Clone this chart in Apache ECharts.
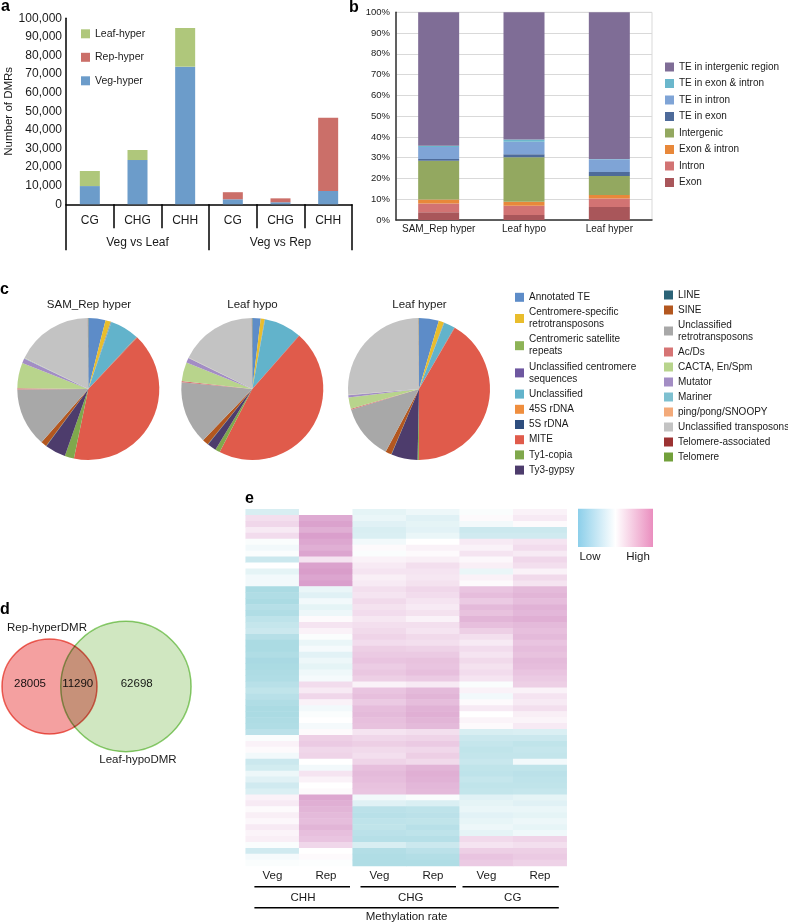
<!DOCTYPE html>
<html><head><meta charset="utf-8">
<script src="https://cdn.jsdelivr.net/npm/echarts@6/dist/echarts.min.js"></script>
<style>html,body{margin:0;padding:0;background:#fff}#c{width:788px;height:924px}</style>
</head><body><div id="c"></div>
<script>
// ---------- Panel a data ----------
const aCategories = ['CG','CHG','CHH','CG','CHG','CHH'];
const aGroups = ['Veg vs Leaf','Veg vs Rep'];
const aVegHyper  = [9800, 23800, 73988, 2700, 1100, 7200];
const aRepHyper  = [null, null, null, 3800, 2100, 39295];
const aLeafHyper = [8100, 5400, 20800, null, null, null];

// ---------- Panel b data (%) ----------
const bCategories = ['SAM_Rep hyper','Leaf hypo','Leaf hyper'];
const bExon          = [3.7, 2.4, 6.3];
const bIntron        = [4.3, 4.5, 4.05];
const bExonIntron    = [1.9, 1.9, 1.65];
const bIntergenic    = [18.6, 21.4, 9.2];
const bTEExon        = [0.9, 1.4, 1.9];
const bTEIntron      = [5.8, 6.1, 6.1];
const bTEExonIntron  = [0.5, 1.1, 0.2];
const bTEIntergenic  = [64.3, 61.2, 70.6];

// ---------- Panel c data (%) ----------
const teTypes = ['Annotated TE','Centromere-specific retrotransposons','Centromeric satellite repeats','Unclassified centromere sequences','Unclassified','45S rDNA','5S rDNA','MITE','Ty1-copia','Ty3-gypsy','LINE','SINE','Unclassified retrotransposons','Ac/Ds','CACTA, En/Spm','Mutator','Mariner','ping/pong/SNOOPY','Unclassified transposons','Telomere-associated','Telomere'];
const cPieTitles = ['SAM_Rep hyper','Leaf hypo','Leaf hyper'];
const cSamRepHyper = [3.9,1.2,0.1,0.1,6.6,0.1,0.1,41.1,2.1,4.7,0.1,1.3,13.4,0.3,5.8,1.1,0.1,0.1,17.6,0.05,0.05];
const cLeafHypo    = [1.9,0.9,0.05,0.05,8.5,0.05,0.05,46.1,1.1,2.0,0.1,1.4,14.3,0.3,4.3,1.1,0.05,0.05,17.6,0.05,0.05];
const cLeafHyper   = [4.5,1.2,0.05,0.05,2.5,0.05,0.05,41.6,0.3,6.0,0.05,1.4,12.5,0.2,2.6,0.5,0.05,0.05,26.2,0.05,0.05];
const cMiteLabels  = ['41.1%','46.1%','41.6%'];

// ---------- Panel d data ----------
const dSetNames = ['Rep-hyperDMR','Leaf-hypoDMR'];
const dRepOnly = 28005, dShared = 11290, dLeafOnly = 62698;

// ---------- Panel e data (0 = low, 10 = high) ----------
const eColumns = ['CHH Veg','CHH Rep','CHG Veg','CHG Rep','CG Veg','CG Rep'];
const eGroups = ['CHH','CHG','CG'];
const eChhVeg = [3.5,6.2,6.5,5.8,6.3,4.8,4.5,4.8,3.0,5.0,4.0,4.5,4.5,1.8,2.0,1.8,2.2,2.0,2.5,2.8,3.0,2.2,1.8,1.8,2.0,1.7,1.8,1.9,2.0,2.3,2.6,2.3,2.0,1.8,1.8,1.9,2.0,2.4,4.8,5.5,5.2,4.5,3.0,3.3,4.3,3.8,3.2,3.6,5.5,5.8,5.2,5.6,5.3,5.8,5.4,5.6,4.8,3.2,4.6,4.8];
const eChhRep = [5.0,8.2,8.5,8.0,8.6,8.3,8.0,8.4,6.0,8.5,8.7,8.4,8.6,4.2,3.8,4.5,4.0,4.3,5.2,6.0,5.5,4.8,4.2,4.6,3.9,4.3,4.0,4.4,4.6,6.3,5.8,6.5,5.5,4.5,4.8,5.0,4.6,5.2,6.8,7.0,6.5,6.6,5.0,4.5,6.0,5.5,5.0,5.2,8.3,8.0,7.8,7.6,7.5,7.8,7.4,7.2,6.5,5.0,5.2,4.9];
const eChgVeg = [4.0,4.2,3.8,3.5,3.6,4.5,5.2,4.8,5.5,5.8,6.0,5.6,5.8,6.2,6.0,6.4,6.1,6.3,5.9,6.2,6.4,6.6,6.3,6.8,7.0,7.2,6.9,7.1,6.8,5.5,7.2,7.4,7.0,7.5,7.6,7.4,7.3,6.0,6.5,6.8,6.4,6.2,6.6,7.4,7.6,7.5,7.3,7.2,4.5,3.8,2.4,2.3,2.5,2.6,2.4,2.2,3.5,2.1,2.0,2.0];
const eChgRep = [4.3,3.8,4.0,3.9,4.2,5.0,5.5,5.2,5.6,6.2,6.0,5.9,6.1,6.5,6.3,6.0,5.8,6.1,5.5,6.2,6.0,6.4,6.2,6.7,7.0,7.3,7.2,7.4,7.0,5.8,7.6,7.8,7.5,7.9,8.0,7.8,7.6,6.2,6.6,7.0,6.5,6.8,6.4,7.8,8.0,7.9,7.7,7.6,4.8,3.6,2.5,2.4,2.6,2.3,2.5,2.2,3.0,2.4,2.1,2.0];
const eCgVeg  = [4.8,5.2,4.5,3.0,3.2,5.8,5.5,6.0,5.3,5.6,4.2,5.5,5.2,7.2,7.5,7.0,7.6,7.3,7.8,7.4,6.8,6.2,5.8,6.3,6.0,6.4,6.1,6.3,6.0,4.8,5.5,4.5,5.2,5.8,5.0,5.4,5.2,3.5,3.0,2.8,2.6,2.7,2.9,2.6,2.5,2.8,2.6,2.7,3.8,4.0,4.2,3.9,4.1,4.3,4.0,6.4,6.0,6.8,7.2,7.0];
const eCgRep  = [5.5,5.8,5.2,3.0,3.2,6.0,6.3,5.8,6.5,6.2,5.5,6.4,6.0,7.6,7.8,7.5,7.9,7.7,8.0,7.6,7.4,7.6,7.2,7.5,7.3,7.6,7.5,7.2,7.0,6.8,5.5,6.0,5.8,6.2,5.6,5.4,5.8,3.6,3.0,2.6,2.8,2.7,4.5,2.6,2.4,2.5,2.6,2.8,4.0,3.8,4.2,4.0,4.3,4.1,4.4,6.6,6.2,6.8,7.0,6.7];
const eLegendText = ['Low','High'];

// ---------- styles ----------
const FONT = '"Liberation Sans", Arial, Helvetica, sans-serif';
const TXT = '#1a1a1a';
const aColors = {veg:'#6c9cca', rep:'#cb6f69', leaf:'#afc77b'};
const bColors = ['#a9565a','#d27373','#e8883a','#93a860','#4e6b9a','#7fa4d6','#6bb7cc','#7f6d96'];
const teColors = ['#5d8cc8','#e9bd2c','#8db356','#6e57a0','#62b3cb','#ef8e3e','#2e4e7e','#e05b4b','#7fa84c','#4d3c6c','#2b6377','#b3571f','#a8a8a8','#d67474','#b8d48c','#a38dc4','#7ec0d0','#f3aa7a','#c3c3c3','#9c3232','#72a03b'];
const wrapNames = {
  'Centromere-specific retrotransposons':'Centromere-specific\nretrotransposons',
  'Centromeric satellite repeats':'Centromeric satellite\nrepeats',
  'Unclassified centromere sequences':'Unclassified centromere\nsequences',
  'Unclassified retrotransposons':'Unclassified\nretrotransposons'
};

const chart = echarts.init(document.getElementById('c'), null, {renderer:'canvas', width:788, height:924});

// ---------- Venn geometry (area proportional) ----------
const repTotal = dRepOnly + dShared, leafTotal = dLeafOnly + dShared;
const vennK = 47.5 / Math.sqrt(repTotal);
const r1 = vennK * Math.sqrt(repTotal), r2 = vennK * Math.sqrt(leafTotal);
function lensArea(a, b, d) {
  if (d >= a + b) return 0;
  if (d <= Math.abs(a - b)) return Math.PI * Math.min(a, b) ** 2;
  const t1 = Math.acos((d*d + a*a - b*b) / (2*d*a));
  const t2 = Math.acos((d*d + b*b - a*a) / (2*d*b));
  return a*a*t1 + b*b*t2 - 0.5*Math.sqrt((-d+a+b)*(d+a-b)*(d-a+b)*(d+a+b));
}
const targetOverlap = Math.PI * vennK * vennK * dShared;
let lo = Math.abs(r1 - r2), hi = r1 + r2;
for (let i = 0; i < 60; i++) { const m = (lo + hi) / 2; if (lensArea(r1, r2, m) > targetOverlap) lo = m; else hi = m; }
const vennD = (lo + hi) / 2;
const vennC1 = [49.5, 86.5], vennC2 = [49.5 + vennD, 86.5];

// ---------- heatmap data ----------
const eAll = [eChhVeg, eChhRep, eChgVeg, eChgRep, eCgVeg, eCgRep];
const eRows = eChhVeg.map((_, i) => String(i));
const heatData = [];
eAll.forEach((col, ci) => col.forEach((v, ri) => heatData.push([ci, ri, v])));

const blackLine = {color:'#000', width:1.5};
const legendText = {fontSize:10, lineHeight:12, color:TXT, fontFamily:FONT};

function pieSeries(center, vals) {
  return {type:'pie', center:center, radius:71, startAngle:90, clockwise:true, silent:true,
    label:{show:false}, labelLine:{show:false}, emphasis:{disabled:true},
    itemStyle:{borderWidth:0},
    data: teTypes.map((n, i) => ({name:n, value:vals[i], itemStyle:{color:teColors[i]}}))};
}

function txt(x, y, text, opt) {
  return Object.assign({type:'text', x:x, y:y, silent:true,
    style:Object.assign({text:text, fill:TXT, font:'11.5px ' + FONT, textAlign:'center', textVerticalAlign:'middle'}, opt || {})});
}
function hline(x1, x2, y) {
  return {type:'line', silent:true, shape:{x1:x1, y1:y, x2:x2, y2:y}, style:{stroke:'#000', lineWidth:1.5}};
}

const option = {
  animation:false,
  textStyle:{fontFamily:FONT},
  grid:[
    {left:66, top:18.3, width:286, height:186},
    {left:396, top:12.3, width:256, height:207.7, show:true, borderColor:'#d9d9d9', borderWidth:1},
    {left:0, top:600, width:200, height:170},
    {left:245.7, top:509.3, width:321, height:356.7}
  ],
  xAxis:[
    {gridIndex:0, type:'category', data:aCategories, axisLine:{show:true, lineStyle:blackLine},
     axisTick:{show:true, interval:0, length:24, lineStyle:blackLine},
     axisLabel:{color:TXT, fontSize:12, margin:10, interval:0}},
    {gridIndex:0, type:'category', data:aGroups, position:'bottom', axisLine:{show:false},
     axisTick:{show:true, interval:0, length:46, lineStyle:blackLine},
     axisLabel:{color:TXT, fontSize:12, margin:32, interval:0}},
    {gridIndex:1, type:'category', data:bCategories, axisLine:{show:true, lineStyle:{color:'#333', width:1.5}},
     axisTick:{show:false}, axisLabel:{color:TXT, fontSize:10, margin:4, interval:0}},
    {gridIndex:2, type:'value', min:0, max:200, show:false},
    {gridIndex:3, type:'category', data:eColumns, axisLine:{show:false}, axisTick:{show:false},
     axisLabel:{color:TXT, fontSize:11.5, margin:4, interval:0, formatter:v => v.split(' ')[1]}}
  ],
  yAxis:[
    {gridIndex:0, type:'value', min:0, max:100000, interval:10000, splitLine:{show:false},
     axisLine:{show:true, lineStyle:blackLine}, axisTick:{show:false},
     axisLabel:{color:TXT, fontSize:12, margin:4, formatter:v => v.toLocaleString('en-US')},
     name:'Number of DMRs', nameLocation:'middle', nameGap:48, nameTextStyle:{color:TXT, fontSize:11.5}},
    {gridIndex:1, type:'value', min:0, max:100, interval:10, splitLine:{show:true, lineStyle:{color:'#d9d9d9'}},
     axisLine:{show:true, lineStyle:{color:'#333', width:1.5}}, axisTick:{show:false},
     axisLabel:{color:TXT, fontSize:9.5, margin:6, formatter:'{value}%'}},
    {gridIndex:2, type:'value', min:0, max:170, inverse:true, show:false},
    {gridIndex:3, type:'category', data:eRows, inverse:true, show:false}
  ],
  legend:[
    {left:81, top:27.8, orient:'vertical', itemWidth:9, itemHeight:9, itemGap:11.5, padding:0,
     selectedMode:false, icon:'rect', textStyle:Object.assign({}, legendText, {fontSize:10.5}),
     data:['Leaf-hyper','Rep-hyper','Veg-hyper']},
    {left:665, top:61, orient:'vertical', itemWidth:9, itemHeight:9, itemGap:4.5, padding:0,
     selectedMode:false, icon:'rect', textStyle:legendText,
     data:['TE in intergenic region','TE in exon & intron','TE in intron','TE in exon','Intergenic','Exon & intron','Intron','Exon']},
    {left:515, top:291.3, orient:'vertical', itemWidth:9, itemHeight:9, itemGap:3.2, padding:0,
     selectedMode:false, icon:'rect', textStyle:legendText, formatter:n => wrapNames[n] || n,
     data:teTypes.slice(0, 10)},
    {left:664, top:289, orient:'vertical', itemWidth:9, itemHeight:9, itemGap:3, padding:0,
     selectedMode:false, icon:'rect', textStyle:legendText, formatter:n => wrapNames[n] || n,
     data:teTypes.slice(10)}
  ],
  visualMap:{type:'continuous', show:false, seriesIndex:15, min:0, max:10, dimension:2,
    inRange:{color:['#7cc6d4','#ffffff','#cc7ab8']}},
  series:[
    {name:'Veg-hyper', type:'bar', stack:'a', xAxisIndex:0, yAxisIndex:0, barWidth:20, data:aVegHyper, itemStyle:{color:aColors.veg}, silent:true},
    {name:'Rep-hyper', type:'bar', stack:'a', xAxisIndex:0, yAxisIndex:0, barWidth:20, data:aRepHyper, itemStyle:{color:aColors.rep}, silent:true},
    {name:'Leaf-hyper', type:'bar', stack:'a', xAxisIndex:0, yAxisIndex:0, barWidth:20, data:aLeafHyper, itemStyle:{color:aColors.leaf}, silent:true},
    {name:'Exon', type:'bar', stack:'b', xAxisIndex:2, yAxisIndex:1, barWidth:41, data:bExon, itemStyle:{color:bColors[0]}, silent:true},
    {name:'Intron', type:'bar', stack:'b', xAxisIndex:2, yAxisIndex:1, barWidth:41, data:bIntron, itemStyle:{color:bColors[1]}, silent:true},
    {name:'Exon & intron', type:'bar', stack:'b', xAxisIndex:2, yAxisIndex:1, barWidth:41, data:bExonIntron, itemStyle:{color:bColors[2]}, silent:true},
    {name:'Intergenic', type:'bar', stack:'b', xAxisIndex:2, yAxisIndex:1, barWidth:41, data:bIntergenic, itemStyle:{color:bColors[3]}, silent:true},
    {name:'TE in exon', type:'bar', stack:'b', xAxisIndex:2, yAxisIndex:1, barWidth:41, data:bTEExon, itemStyle:{color:bColors[4]}, silent:true},
    {name:'TE in intron', type:'bar', stack:'b', xAxisIndex:2, yAxisIndex:1, barWidth:41, data:bTEIntron, itemStyle:{color:bColors[5]}, silent:true},
    {name:'TE in exon & intron', type:'bar', stack:'b', xAxisIndex:2, yAxisIndex:1, barWidth:41, data:bTEExonIntron, itemStyle:{color:bColors[6]}, silent:true},
    {name:'TE in intergenic region', type:'bar', stack:'b', xAxisIndex:2, yAxisIndex:1, barWidth:41, data:bTEIntergenic, itemStyle:{color:bColors[7]}, silent:true},
    pieSeries([88.3, 389], cSamRepHyper),
    pieSeries([252.3, 389], cLeafHypo),
    pieSeries([419, 389], cLeafHyper),
    {type:'scatter', xAxisIndex:3, yAxisIndex:2, silent:true, blendMode:'multiply', symbol:'circle',
     data:[
       {value:vennC1, symbolSize:2*r1, itemStyle:{color:'#f4a0a0', borderColor:'#ef6b5f', borderWidth:1.5, opacity:1}},
       {value:vennC2, symbolSize:2*r2, itemStyle:{color:'#d0e7c1', borderColor:'#8ecf70', borderWidth:1.5, opacity:1}}
     ]},
    {type:'heatmap', xAxisIndex:4, yAxisIndex:3, data:heatData, silent:true, itemStyle:{borderWidth:0}, emphasis:{disabled:true}}
  ],
  graphic:[
    txt(1, 6.5, 'a', {font:'bold 16px ' + FONT, textAlign:'left', fill:'#000'}),
    txt(349, 7.2, 'b', {font:'bold 16px ' + FONT, textAlign:'left', fill:'#000'}),
    txt(0, 289.5, 'c', {font:'bold 16px ' + FONT, textAlign:'left', fill:'#000'}),
    txt(0, 609.5, 'd', {font:'bold 16px ' + FONT, textAlign:'left', fill:'#000'}),
    txt(245, 498.5, 'e', {font:'bold 16px ' + FONT, textAlign:'left', fill:'#000'}),
    txt(89, 305, cPieTitles[0]), txt(252.5, 305, cPieTitles[1]), txt(419.5, 305, cPieTitles[2]),
    txt(107, 386, 'MITE\n' + cMiteLabels[0], {textAlign:'left', lineHeight:14}),
    txt(270.7, 386, 'MITE\n' + cMiteLabels[1], {textAlign:'left', lineHeight:14}),
    txt(437.7, 386, 'MITE\n' + cMiteLabels[2], {textAlign:'left', lineHeight:14}),
    txt(47, 628.3, dSetNames[0]), txt(138, 760, dSetNames[1]),
    txt(30, 684.3, String(dRepOnly)), txt(77.7, 684.3, String(dShared)), txt(136.7, 684.3, String(dLeafOnly)),
    hline(254.4, 350, 886.7), hline(360.5, 456, 886.7), hline(462.5, 558.8, 886.7),
    txt(303, 898.3, eGroups[0]), txt(410.7, 898.3, eGroups[1]), txt(512.7, 898.3, eGroups[2]),
    hline(254.4, 558.8, 907.7),
    txt(406.6, 917.3, 'Methylation rate'),
    {type:'rect', silent:true, shape:{x:578, y:508.7, width:37.5, height:38.3},
     style:{fill:new echarts.graphic.LinearGradient(0,0,1,0,[{offset:0,color:'#8ccfea'},{offset:1,color:'#ffffff'}])}},
    {type:'rect', silent:true, shape:{x:615.5, y:508.7, width:37.5, height:38.3},
     style:{fill:new echarts.graphic.LinearGradient(0,0,1,0,[{offset:0,color:'#ffffff'},{offset:1,color:'#ea8ebf'}])}},
    txt(590, 557, eLegendText[0]), txt(638, 557, eLegendText[1])
  ]
};
chart.setOption(option);
</script></body></html>
